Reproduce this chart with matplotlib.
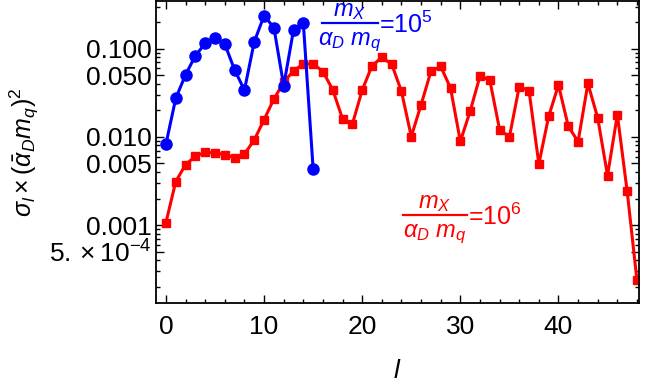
import numpy as np
import matplotlib
matplotlib.use("Agg")
import matplotlib.pyplot as plt
from matplotlib.lines import Line2D

plt.rcParams['font.family'] = ['Liberation Sans', 'DejaVu Sans']
plt.rcParams['mathtext.fontset'] = 'custom'
plt.rcParams['mathtext.rm'] = 'Liberation Sans'
plt.rcParams['mathtext.it'] = 'Liberation Sans:italic'
plt.rcParams['mathtext.bf'] = 'Liberation Sans:bold'

# data
l_blue = list(range(16))
sigma_blue = [0.0083, 0.0274, 0.0508, 0.0833, 0.115, 0.134, 0.113, 0.0574,
              0.034, 0.12, 0.237, 0.174, 0.0381, 0.163, 0.195, 0.00434]

l_red = list(range(49))
sigma_red = [0.00107, 0.00312, 0.00486, 0.00604, 0.0067, 0.0066, 0.0063, 0.00583,
             0.00641, 0.00924, 0.0157, 0.0269, 0.0416, 0.0564, 0.0671, 0.0675,
             0.0552, 0.0342, 0.016, 0.014, 0.034, 0.0642, 0.0798, 0.0671,
             0.0329, 0.0101, 0.0232, 0.0553, 0.063, 0.0359, 0.0089, 0.0196,
             0.0488, 0.0442, 0.0121, 0.0100, 0.0372, 0.0334, 0.00494, 0.0171,
             0.0388, 0.0132, 0.00885, 0.0404, 0.0164, 0.00365, 0.0179, 0.00242,
             0.000236]

ytick_vals = [5e-4, 0.001, 0.005, 0.010, 0.050, 0.100]
ytick_labels = [r'$5.\times10^{-4}$', '0.001', '0.005', '0.010', '0.050', '0.100']

W, H = 656, 385
fig = plt.figure(figsize=(W / 100, H / 100), dpi=100)
ax = fig.add_axes([0.238, 0.213, 0.736, 0.785])

ax.plot(l_blue, sigma_blue, '-o', color='#0000ff', lw=2.2, ms=8, zorder=3)
ax.plot(l_red, sigma_red, '-s', color='#ff0000', lw=2.2, ms=5.5, zorder=2)

ax.set_yscale('log')
ax.set_xlim(-1.0, 48.2)
ax.set_ylim(1.31e-4, 0.35)

ax.set_yticks(ytick_vals)
ax.set_yticklabels(ytick_labels)
minor = []
for dec in [1e-4, 1e-3, 1e-2, 1e-1]:
    for k in range(1, 10):
        v = k * dec
        if 1.31e-4 <= v <= 0.35 and not any(abs(v - t) / t < 1e-6 for t in ytick_vals):
            minor.append(v)
ax.set_yticks(minor, minor=True)
ax.yaxis.set_minor_formatter(matplotlib.ticker.NullFormatter())

ax.set_xticks([0, 10, 20, 30, 40])
ax.set_xticks(np.arange(0, 49, 2), minor=True)

ax.tick_params(which='both', direction='in', top=True, right=True, labelsize=19, width=1)
ax.tick_params(which='major', length=6)
ax.tick_params(which='minor', length=3)
ax.tick_params(axis='x', pad=9)
ax.tick_params(axis='y', pad=3)
for s in ax.spines.values():
    s.set_linewidth(1.3)

ax.set_xlabel(r'$l$', fontsize=19, labelpad=14)
ax.set_ylabel(r'$\sigma_l\times(\bar{\alpha}_D m_q)^2$', fontsize=18, labelpad=6)


def frac_label(x0, x1, yline, power, color):
    # fraction drawn by hand so numerator/denominator keep full size
    xc = (x0 + x1) / 2
    fig.text(xc / W, 1 - (yline - 12) / H, r'$m_X$', color=color, fontsize=17,
             ha='center', va='center')
    fig.text(xc / W, 1 - (yline + 19) / H, r'$\alpha_D\ m_q$', color=color, fontsize=17,
             ha='center', va='center')
    fig.add_artist(Line2D([x0 / W, x1 / W], [1 - yline / H, 1 - yline / H],
                          color=color, lw=1.6, transform=fig.transFigure))
    fig.text((x1 + 1) / W, 1 - (yline + 2) / H, '=10$^{%d}$' % power, color=color,
             fontsize=18, ha='left', va='center')


frac_label(322, 378, 23, 5, '#0000ff')
frac_label(403, 467, 215, 6, '#ff0000')

plt.savefig('out.png', dpi=100)
